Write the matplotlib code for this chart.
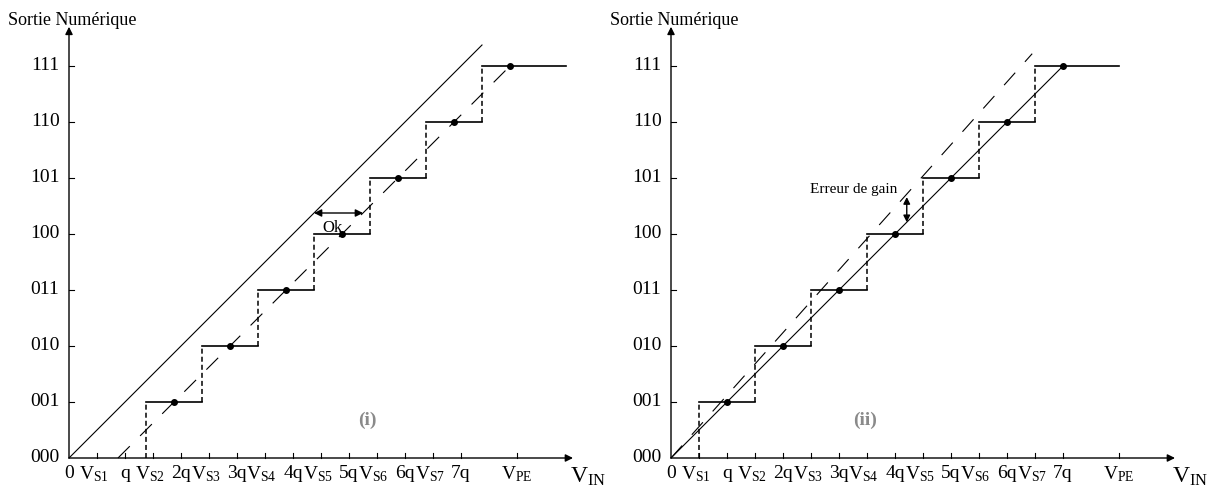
import numpy as np
import matplotlib
matplotlib.use('Agg')
import matplotlib.pyplot as plt

plt.rcParams['font.family'] = ['Liberation Serif', 'DejaVu Serif']
plt.rcParams['mathtext.fontset'] = 'custom'
plt.rcParams['mathtext.rm'] = 'Liberation Serif'
plt.rcParams['mathtext.it'] = 'Liberation Serif:italic'
plt.rcParams['lines.scale_dashes'] = False

# output codes (y axis) and input ticks (x axis, in units of q)
codes = ['000', '001', '010', '011', '100', '101', '110', '111']
x_ticks = [0.5, 1, 1.5, 2, 2.5, 3, 3.5, 4, 4.5, 5, 5.5, 6, 6.5, 7, 8]
x_labels = ['0', r'$\mathrm{V}_{\mathrm{S1}}$', 'q', r'$\mathrm{V}_{\mathrm{S2}}$', '2q',
            r'$\mathrm{V}_{\mathrm{S3}}$', '3q', r'$\mathrm{V}_{\mathrm{S4}}$', '4q',
            r'$\mathrm{V}_{\mathrm{S5}}$', '5q', r'$\mathrm{V}_{\mathrm{S6}}$', '6q',
            r'$\mathrm{V}_{\mathrm{S7}}$', '7q', r'$\mathrm{V}_{\mathrm{PE}}$']
x_label_pos = [0] + x_ticks

# (i) offset error, (ii) gain error
offset = 0.875
last_end_i = 8.875
ideal_end_i = 7.375
gain_end = (6.45, 7.22)
last_end_ii = 8.0
ok_level = 4.375
gain_x = 4.21

PX = 56.0  # pixels per q
dash_long = (0, (12, 10.5))
dash_short = (0, (3.6, 2.2))


def draw_frame(ax):
    ax.axis('off')
    ax.annotate('', xy=(9.0, 0), xytext=(0, 0),
                arrowprops=dict(arrowstyle='-|>', lw=1.0, color='k',
                                shrinkA=0, shrinkB=0, mutation_scale=11))
    ax.annotate('', xy=(0, 7.7), xytext=(0, 0),
                arrowprops=dict(arrowstyle='-|>', lw=1.0, color='k',
                                shrinkA=0, shrinkB=0, mutation_scale=11))
    for k, c in enumerate(codes):
        ax.text(-0.17, k, c, ha='right', va='center', fontsize=14)
        if k > 0:
            ax.plot([0, 0.09], [k, k], color='k', lw=0.8)
    for xt in x_ticks:
        ax.plot([xt, xt], [0, 0.09], color='k', lw=0.8)
    for xp, lab in zip(x_label_pos, x_labels):
        dx = -0.06 if lab.startswith('$') and 'PE' not in lab else 0
        ax.text(xp + dx, -0.12, lab, ha='center', va='top', fontsize=14)
    ax.text(9.27, -0.13, r'$\mathrm{V}_{\mathrm{IN}}$', ha='center', va='top', fontsize=17)
    ax.text(-1.09, 7.82, 'Sortie Numérique', ha='left', va='center', fontsize=13)


def draw_steps(ax, shift, last_end):
    for k in range(1, 8):
        x0 = k - 0.5 + shift
        x1 = k + 0.5 + shift if k < 7 else last_end
        ax.plot([x0, x1], [k, k], color='k', lw=1.2)
        ax.plot([x0, x0], [k - 1, k], color='k', lw=1.1, linestyle=dash_short)
        ax.plot([k + shift], [k], 'o', color='k', ms=4)


fig = plt.figure(figsize=(12.15, 4.95), dpi=100)
axL = fig.add_axes([0, 0, 0.5, 1])
axR = fig.add_axes([0.5, 0, 0.5, 1])
axL.set_xlim(-69 / PX, (607.5 - 69) / PX)
axR.set_xlim(-(671 - 607.5) / PX, (1215 - 671) / PX)
for ax in (axL, axR):
    ax.set_ylim(-37 / PX, 458 / PX)
    draw_frame(ax)

# (i) offset error
draw_steps(axL, offset, last_end_i)
axL.plot([0, ideal_end_i], [0, ideal_end_i], color='k', lw=0.8)
axL.plot([offset, 7 + offset], [0, 7], color='k', lw=0.8, linestyle=dash_long)
axL.annotate('', xy=(ok_level + offset, ok_level), xytext=(ok_level, ok_level),
             arrowprops=dict(arrowstyle='<|-|>', lw=1.0, color='k',
                             shrinkA=0, shrinkB=0, mutation_scale=11))
axL.text(ok_level + 0.33, ok_level - 0.12, 'Ok', ha='center', va='top', fontsize=12)
axL.text(5.32, 0.68, '(i)', ha='center', va='center', fontsize=14,
         fontweight='bold', color='#8a8a8a')

# (ii) gain error
draw_steps(axR, 0, last_end_ii)
axR.plot([0, 7], [0, 7], color='k', lw=0.8)
axR.plot([0, gain_end[0]], [0, gain_end[1]], color='k', lw=0.8, linestyle=dash_long)
axR.annotate('', xy=(gain_x, 4.66), xytext=(gain_x, gain_x),
             arrowprops=dict(arrowstyle='<|-|>', lw=1.0, color='k',
                             shrinkA=0, shrinkB=0, mutation_scale=10))
axR.text(4.04, 4.79, 'Erreur de gain', ha='right', va='center', fontsize=11)
axR.text(3.46, 0.68, '(ii)', ha='center', va='center', fontsize=14,
         fontweight='bold', color='#8a8a8a')

fig.savefig('out.png', dpi=100)
